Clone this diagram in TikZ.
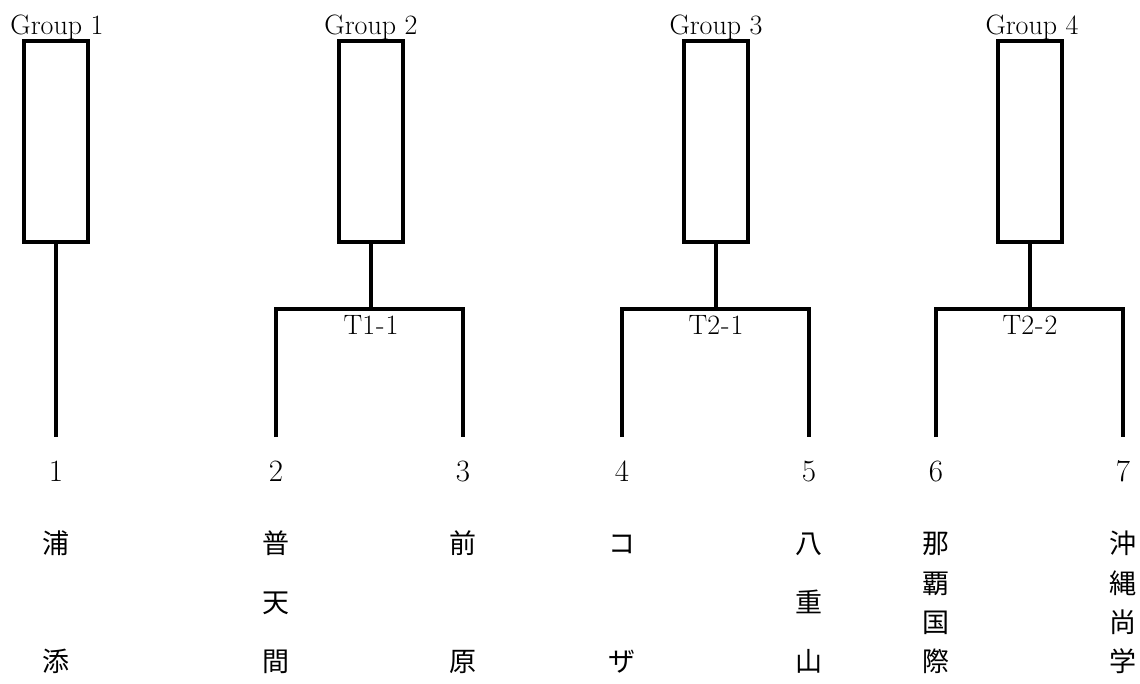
\documentclass[tikz,border=0pt]{standalone}
\usepackage{fontspec}
\newfontfamily\cjk{Noto Sans CJK JP}
\tikzset{
  grp/.style={draw, line width=3.3pt, minimum width=64pt, minimum height=201pt, inner sep=0pt},
  wire/.style={line width=3.3pt},
  lbl/.style={font=\rmfamily\fontsize{28}{32}\selectfont, anchor=base, inner sep=0pt},
  num/.style={font=\rmfamily\fontsize{31}{34}\selectfont, anchor=base, inner sep=0pt},
  cjkch/.style={font=\cjk\fontsize{27}{30}\selectfont, inner sep=0pt, text height=0.88em, text depth=0.12em}
}
\newcommand\vname[4]{%
  \foreach \c [count=\i from 0] in {#4}
    \node[cjkch] (#1-\i) at (#2, {550+\i*118/(#3-1)}) {\c};}
\begin{document}
\begin{tikzpicture}[x=1pt,y=-1pt]
\useasboundingbox (0,0) rectangle (1140,684);
% group boxes
\node[grp] (b1) at (56,141.5) {};
\node[grp] (b2) at (371,141.5) {};
\node[grp] (b3) at (716,141.5) {};
\node[grp] (b4) at (1030,141.5) {};
\node[lbl] (g1) at (57,35) {Group 1};
\node[lbl] (g2) at (371,35) {Group 2};
\node[lbl] (g3) at (716,35) {Group 3};
\node[lbl] (g4) at (1032,35) {Group 4};
% leg ends
\coordinate (e1) at (56,437);
\coordinate (e2) at (276,437);
\coordinate (e3) at (463,437);
\coordinate (e4) at (622,437);
\coordinate (e5) at (809,437);
\coordinate (e6) at (936,437);
\coordinate (e7) at (1123,437);
% bracket corners and junctions
\coordinate (j2) at (371,309); \coordinate (l2) at (276,309); \coordinate (r2) at (463,309);
\coordinate (j3) at (716,309); \coordinate (l3) at (622,309); \coordinate (r3) at (809,309);
\coordinate (j4) at (1030,309); \coordinate (l4) at (936,309); \coordinate (r4) at (1123,309);
\draw[wire] (b1.south) -- (e1);
\draw[wire] (b2.south) -- (j2);
\draw[wire] (e2) -- (l2) -- (r2) -- (e3);
\draw[wire] (b3.south) -- (j3);
\draw[wire] (e4) -- (l3) -- (r3) -- (e5);
\draw[wire] (b4.south) -- (j4);
\draw[wire] (e6) -- (l4) -- (r4) -- (e7);
\node[lbl] (t2) at (371,335) {T1\kern1pt-\kern1pt1};
\node[lbl] (t3) at (716,335) {T2\kern1pt-\kern1pt1};
\node[lbl] (t4) at (1030,335) {T2\kern1pt-\kern1pt2};
% numbers
\node[num] (n1) at (56,481) {1};
\node[num] (n2) at (276,481) {2};
\node[num] (n3) at (463,481) {3};
\node[num] (n4) at (622,481) {4};
\node[num] (n5) at (809,481) {5};
\node[num] (n6) at (936,481) {6};
\node[num] (n7) at (1123,481) {7};
% names
\vname{m1}{56}{2}{浦,添}
\vname{m2}{276}{3}{普,天,間}
\vname{m3}{463}{2}{前,原}
\vname{m4}{622}{2}{コ,ザ}
\vname{m5}{809}{3}{八,重,山}
\vname{m6}{936}{4}{那,覇,国,際}
\vname{m7}{1123}{4}{沖,縄,尚,学}
\end{tikzpicture}
\end{document}
